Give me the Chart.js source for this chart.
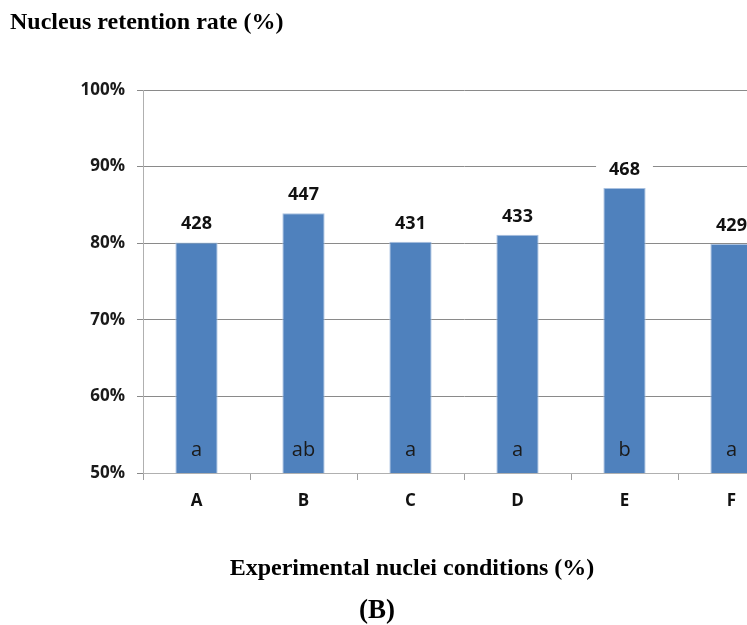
<!DOCTYPE html>
<html>
<head>
<meta charset="utf-8">
<script src="https://cdn.jsdelivr.net/npm/chart.js@4.4.0/dist/chart.umd.min.js"></script>
<style>
  html, body { margin: 0; padding: 0; background: #fff; overflow: hidden; }
  #wrap { width: 747px; height: 625px; overflow: hidden; position: relative; }
  #box { width: 800px; height: 625px; position: absolute; left: 0; top: 0; }
</style>
</head>
<body>
<div id="wrap"><div id="box"><canvas id="c"></canvas></div></div>
<script>
const categories = ['A', 'B', 'C', 'D', 'E', 'F'];
const retention = [80.1, 83.9, 80.2, 81.1, 87.2, 79.9];
const counts = ['428', '447', '431', '433', '468', '429'];
const groups = ['a', 'ab', 'a', 'a', 'b', 'a'];
const yTicks = [50, 60, 70, 80, 90, 100];
const chartTitle = 'Nucleus retention rate (%)';
const xTitle = 'Experimental nuclei conditions (%)';
const panelLabel = '(B)';

const sans = '"Open Sans", "Liberation Sans", sans-serif';
const serif = '"Liberation Serif", "DejaVu Serif", serif';

const textPlugin = {
  id: 'texts',
  afterDatasetsDraw(chart) {
    const ctx = chart.ctx;
    const meta = chart.getDatasetMeta(0);
    ctx.save();
    meta.data.forEach((bar, i) => {
      ctx.font = 'bold 18px ' + sans;
      const w = ctx.measureText(counts[i]).width;
      const by = bar.y - 13;
      ctx.fillStyle = '#ffffff';
      ctx.fillRect(bar.x - w / 2 - 13, by - 19, w + 26, 26);
      ctx.fillStyle = '#111111';
      ctx.textAlign = 'center';
      ctx.textBaseline = 'alphabetic';
      ctx.fillText(counts[i], bar.x, by);
      ctx.font = '20px ' + sans;
      ctx.fillStyle = '#1a1a1a';
      ctx.fillText(groups[i], bar.x, chart.chartArea.bottom - 17);
    });
    ctx.fillStyle = '#000000';
    ctx.textAlign = 'left';
    ctx.font = 'bold 24px ' + serif;
    ctx.fillText(chartTitle, 10, 29);
    ctx.textAlign = 'center';
    ctx.font = 'bold 24px ' + serif;
    ctx.fillText(xTitle, 412, 575);
    ctx.font = 'bold 27px ' + serif;
    ctx.fillText(panelLabel, 377, 618);
    ctx.restore();
  }
};

new Chart(document.getElementById('c'), {
  type: 'bar',
  data: {
    labels: categories,
    datasets: [{
      data: retention,
      backgroundColor: '#4f81bd',
      borderColor: '#a9c1e0',
      borderWidth: 1,
      barPercentage: 0.395,
      categoryPercentage: 1.0
    }]
  },
  options: {
    responsive: true,
    maintainAspectRatio: false,
    animation: false,
    events: [],
    layout: { padding: { left: 0, top: 90, right: 15, bottom: 0 } },
    plugins: { legend: { display: false }, tooltip: { enabled: false }, title: { display: false } },
    scales: {
      y: {
        min: 50, max: 100,
        afterFit(scale) { scale.width = 143; },
        afterBuildTicks(scale) { scale.ticks = yTicks.map(v => ({ value: v })); },
        ticks: {
          padding: 12,
          color: '#1a1a1a',
          font: { family: sans, size: 17, weight: 'bold' },
          callback: v => v + '%'
        },
        grid: { color: '#8a8a8a', lineWidth: 1, tickLength: 6, drawTicks: true },
        border: { color: '#b0b0b0', width: 1 }
      },
      x: {
        afterFit(scale) { scale.height = 152; },
        ticks: {
          padding: 11,
          color: '#111111',
          font: { family: sans, size: 17, weight: 'bold' }
        },
        grid: { offset: true, drawOnChartArea: false, drawTicks: true, tickLength: 7, color: '#a0a0a0' },
        border: { color: '#b0b0b0', width: 1 }
      }
    }
  },
  plugins: [textPlugin]
});
</script>
</body>
</html>
